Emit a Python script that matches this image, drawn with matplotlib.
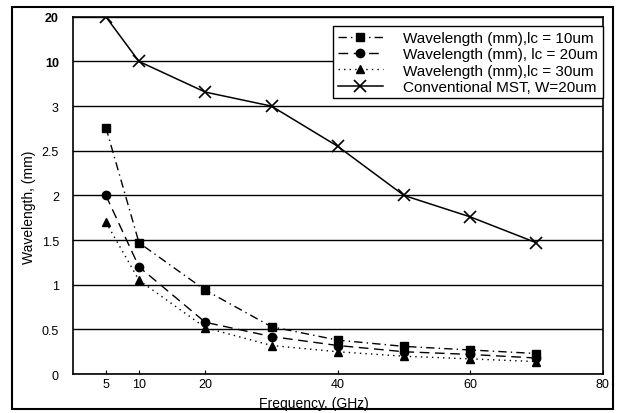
import numpy as np
import matplotlib
matplotlib.use("Agg")
import matplotlib.pyplot as plt
from matplotlib.patches import Rectangle

plt.rcParams['font.family'] = ['Liberation Sans', 'DejaVu Sans']

freq = [5, 10, 20, 30, 40, 50, 60, 70]
lc10 = [2.76, 1.47, 0.94, 0.53, 0.38, 0.31, 0.27, 0.23]
lc20 = [2.0, 1.2, 0.58, 0.42, 0.32, 0.25, 0.22, 0.18]
lc30 = [1.7, 1.05, 0.52, 0.32, 0.25, 0.2, 0.17, 0.14]
mst = [20, 10, 5.2, 3.0, 2.55, 2.0, 1.76, 1.47]

yticks = [0, 0.5, 1, 1.5, 2, 2.5, 3, 10, 20]
ytick_labels = ["0", "0.5", "1", "1.5", "2", "2.5", "3", "10", "20"]
xticks = [5, 10, 20, 40, 60, 80]

# broken y axis: 0..3 linear, then 3->10 and 10->20 each take one grid step
src = [0, 3, 10, 20]
dst = [0, 6, 7, 8]

def fwd(y):
    return np.interp(y, src, dst)

def inv(v):
    return np.interp(v, dst, src)

fig = plt.figure(figsize=(6.22, 4.14), dpi=100)
ax = fig.add_axes([0.117, 0.094, 0.852, 0.863])
ax.set_yscale('function', functions=(fwd, inv))

ax.plot(freq, lc10, color='black', marker='s', markersize=6, lw=1,
        dashes=(6, 3, 1, 3), label="Wavelength (mm),lc = 10um")
ax.plot(freq, lc20, color='black', marker='o', markersize=6, lw=1,
        dashes=(7, 4), label="Wavelength (mm), lc = 20um")
ax.plot(freq, lc30, color='black', marker='^', markersize=6, lw=1,
        dashes=(1, 3), label="Wavelength (mm),lc = 30um")
ax.plot(freq, mst, color='black', marker='x', markersize=8, mew=1.2, lw=1.1,
        label="Conventional MST, W=20um")

ax.set_xlim(0, 80)
ax.set_ylim(0, 20)
ax.set_yticks(yticks)
ax.set_yticklabels(ytick_labels, fontsize=9)
for t in ax.get_yticklabels()[-2:]:
    t.set_fontweight('bold')
ax.yaxis.set_minor_locator(matplotlib.ticker.NullLocator())
ax.set_xticks(xticks)
ax.set_xticklabels([str(x) for x in xticks], fontsize=9)
ax.tick_params(axis='x', direction='in', length=3, pad=3)
ax.tick_params(axis='y', length=0, pad=10)
ax.grid(axis='y', color='black', lw=1)
for s in ax.spines.values():
    s.set_linewidth(1.2)

ax.set_xlabel("Frequency, (GHz)", fontsize=10)
ax.xaxis.set_label_coords(0.455, -0.062)
ax.set_ylabel("Wavelength, (mm)", fontsize=10)
ax.yaxis.set_label_coords(-0.07, 0.47)

leg = ax.legend(loc='upper right', fontsize=11, fancybox=False, framealpha=1,
                edgecolor='black', borderpad=0.3, handlelength=3.0,
                handletextpad=1.3, labelspacing=0.15, borderaxespad=0,
                bbox_to_anchor=(1.0, 0.973))
leg.get_frame().set_linewidth(1)

fig.patches.append(Rectangle((0.02, 0.01), 0.965, 0.97, transform=fig.transFigure,
                             fill=False, edgecolor='black', lw=1.5))

fig.savefig("out.png", dpi=100)
